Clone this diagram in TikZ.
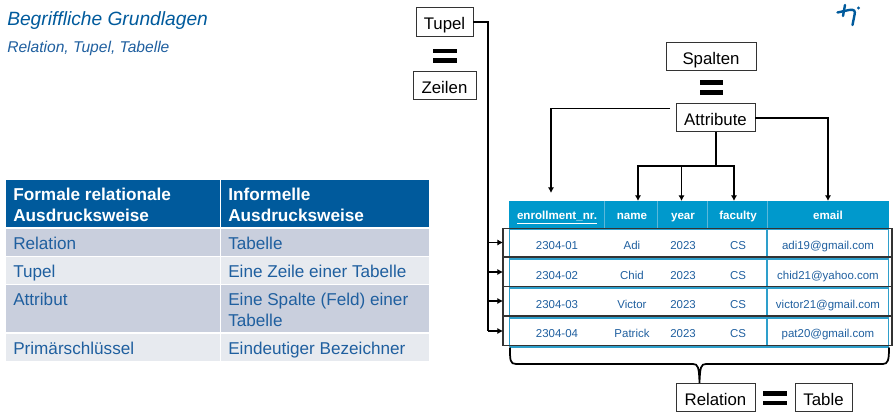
\documentclass[tikz,border=0pt]{standalone}
\usepackage{fontspec}
\setmainfont{Liberation Sans}
\usetikzlibrary{arrows.meta}
\definecolor{navy}{HTML}{005A9C}
\definecolor{bodyblue}{HTML}{1F5F9F}
\definecolor{rowdark}{HTML}{C9CFDD}
\definecolor{rowlight}{HTML}{E7EAEF}
\definecolor{cyanhead}{HTML}{0099CC}
\definecolor{cyanline}{HTML}{2E9FCB}
\definecolor{cyansep}{HTML}{5BB8DA}
\tikzset{
  x=0.75pt,y=-0.75pt,
  labelbox/.style={draw=black!80,line width=0.75pt,fill=white,inner sep=0pt,outer sep=0pt,font=\fontsize{12.6}{15}\selectfont,text=black,text height=10.7pt,text depth=0pt},
  rowbox/.style={draw=black!80,line width=0.8pt,inner sep=0pt,outer sep=0pt,minimum width=291.75pt,minimum height=21.4pt},
  conn/.style={line width=1.5pt,draw=black},
  thinconn/.style={line width=1.4pt,draw=black},
  tip/.style={-{Latex[length=4.2pt,width=4.6pt]}},
  eqbar/.style={fill=black},
  titletext/.style={anchor=base west,inner sep=0pt,text=navy,font=\fontsize{14.4}{17}\selectfont\itshape},
  subtext/.style={anchor=base west,inner sep=0pt,text=bodyblue,font=\fontsize{11.7}{14}\selectfont\itshape},
  lhead/.style={anchor=base west,inner sep=0pt,text=white,font=\fontsize{12.9}{15.75}\selectfont\bfseries,align=left},
  lcell/.style={anchor=base west,inner sep=0pt,text=bodyblue,font=\fontsize{12.85}{15.75}\selectfont,align=left},
  dcell/.style={anchor=base,inner sep=0pt,text=bodyblue,font=\fontsize{8.6}{10}\selectfont},
  mcell/.style={anchor=base,inner sep=0pt,text=bodyblue,font=\fontsize{8.6}{10}\selectfont},
  hcell/.style={anchor=base,inner sep=0pt,text=white,font=\fontsize{8.7}{10}\selectfont\bfseries},
}
\begin{document}
\begin{tikzpicture}
\useasboundingbox (0,0) rectangle (896,416);
% title
\node[titletext] (title) at (7,26) {Begriffliche Grundlagen};
\node[subtext] (subtitle) at (7,52.5) {Relation, Tupel, Tabelle};
% logo
\draw[navy,line width=1.8pt,line cap=round] (845,5) -- (843,16);
\draw[navy,line width=1.8pt,line cap=round] (837.5,12.5) -- (849,10) .. controls (854.5,9) and (855.5,11) .. (854.5,15) -- (852.5,25);
\fill[navy] (858.5,8) circle (1.6);
% left table
\fill[navy] (6,180) rectangle (219.5,227);
\fill[navy] (221,180) rectangle (429,227);
\fill[rowdark] (6,229.5) rectangle (219.5,256);
\fill[rowdark] (221,229.5) rectangle (429,256);
\fill[rowlight] (6,257) rectangle (219.5,284);
\fill[rowlight] (221,257) rectangle (429,284);
\fill[rowdark] (6,285) rectangle (219.5,332.5);
\fill[rowdark] (221,285) rectangle (429,332.5);
\fill[rowlight] (6,334) rectangle (219.5,361);
\fill[rowlight] (221,334) rectangle (429,361);
\node[lhead] (h1) at (13,222) {Formale relationale\\Ausdrucksweise};
\node[lhead] (h2) at (228,222) {Informelle\\Ausdrucksweise};
\node[lcell] (l1a) at (13,250) {Relation};
\node[lcell] (l1b) at (228,250) {Tabelle};
\node[lcell] (l2a) at (13,278) {Tupel};
\node[lcell] (l2b) at (228,278) {Eine Zeile einer Tabelle};
\node[lcell] (l3a) at (13,306) {Attribut};
\node[lcell] (l3b) at (228,327) {Eine Spalte (Feld) einer\\Tabelle};
\node[lcell] (l4a) at (13,355) {Primärschlüssel};
\node[lcell] (l4b) at (228,355) {Eindeutiger Bezeichner};
% data table
\fill[cyanhead] (509,201) rectangle (889,229);
\foreach \sx in {604,657,707,767}{\draw[cyansep,line width=0.75pt] (\sx,201) -- (\sx,229);}
\foreach \ly in {229,259,288,318,347}{\draw[cyanline,line width=0.8pt] (509.5,\ly) -- (889,\ly);}
\draw[cyanline,line width=0.9pt] (509.5,229) -- (509.5,347);
\draw[cyanline,line width=0.9pt] (888.7,229) -- (888.7,347);
\draw[cyanline,line width=1pt] (767,229) -- (767,347);
\node[hcell] (c1) at (557,220) {\underline{enrollment\_nr.}};
\node[hcell] (c2) at (632,220) {name};
\node[hcell] (c3) at (683,220) {year};
\node[hcell] (c4) at (738,220) {faculty};
\node[hcell] (c5) at (828,220) {email};
\node[dcell] (r1a) at (557,250) {2304-01};
\node[dcell] (r1b) at (632,250) {Adi};
\node[dcell] (r1c) at (683,250) {2023};
\node[dcell] (r1d) at (738,250) {CS};
\node[mcell] (r1e) at (828,250) {adi19@gmail.com};
\node[dcell] (r2a) at (557,280) {2304-02};
\node[dcell] (r2b) at (632,280) {Chid};
\node[dcell] (r2c) at (683,280) {2023};
\node[dcell] (r2d) at (738,280) {CS};
\node[mcell] (r2e) at (828,280) {chid21@yahoo.com};
\node[dcell] (r3a) at (557,309) {2304-03};
\node[dcell] (r3b) at (632,309) {Victor};
\node[dcell] (r3c) at (683,309) {2023};
\node[dcell] (r3d) at (738,309) {CS};
\node[mcell] (r3e) at (828,309) {victor21@gmail.com};
\node[dcell] (r4a) at (557,338) {2304-04};
\node[dcell] (r4b) at (632,338) {Patrick};
\node[dcell] (r4c) at (683,338) {2023};
\node[dcell] (r4d) at (738,338) {CS};
\node[mcell] (r4e) at (828,338) {pat20@gmail.com};
% row boxes
\node[rowbox] (row1) at (697.5,242.5) {};
\node[rowbox] (row2) at (697.5,272) {};
\node[rowbox] (row3) at (697.5,301) {};
\node[rowbox] (row4) at (697.5,331) {};
% label boxes
\node[labelbox,minimum width=42.75pt,minimum height=21.75pt] (tupel) at (444.5,22.5) {Tupel};
\node[labelbox,minimum width=47.25pt,minimum height=21pt] (zeilen) at (444.5,86) {Zeilen};
\node[labelbox,minimum width=67.5pt,minimum height=21pt] (spalten) at (711,57) {Spalten};
\node[labelbox,minimum width=59.25pt,minimum height=21pt] (attribute) at (715.5,118) {Attribute};
\node[labelbox,minimum width=59.25pt,minimum height=21pt] (relation) at (715.5,398) {Relation};
\node[labelbox,minimum width=42.75pt,minimum height=21pt] (tablebox) at (823.5,398) {Table};
% equals signs
\fill[eqbar] (433,49) rectangle (457,53.5);
\fill[eqbar] (433,58.5) rectangle (457,63);
\fill[eqbar] (700,80) rectangle (723,85);
\fill[eqbar] (700,90) rectangle (723,95);
\fill[eqbar] (763,391) rectangle (787,396);
\fill[eqbar] (763,401) rectangle (787,405.5);
% tuple connectors
\coordinate (trunkend) at (488,331);
\draw[conn] (tupel.east) -| (trunkend);
\draw[thinconn,tip] (trunkend |- row1.west) -- (row1.west);
\draw[thinconn,tip] (trunkend |- row2.west) -- (row2.west);
\draw[thinconn,tip] (trunkend |- row3.west) -- (row3.west);
\draw[thinconn,tip] (trunkend) -- (row4.west);
% attribute connectors
\coordinate (leftstart) at (670,108.5);
\coordinate (leftend) at (551,193);
\coordinate (rightend) at (828,201);
\coordinate (busmid) at (715.5,166);
\coordinate (busleft) at (638,201);
\coordinate (busmidd) at (681.5,201);
\coordinate (busright) at (734,201);
\draw[thinconn,tip] (leftstart) -| (leftend);
\draw[thinconn,tip] (attribute.east) -| (rightend);
\draw[conn] (attribute.south) -- (busmid);
\draw[thinconn,tip] (busmid) -| (busleft);
\draw[thinconn,tip] (busmid -| busmidd) -- (busmidd);
\draw[thinconn,tip] (busmid) -| (busright);
% brace
\draw[line width=1.3pt,line cap=round] (510,348) .. controls (510,360) and (510,364) .. (516,364)
  -- (693,364) .. controls (698,364) and (699,367) .. (699.5,383)
  .. controls (700,367) and (701,364) .. (706,364)
  -- (883,364) .. controls (888,364) and (889,360) .. (889,348);
\end{tikzpicture}
\end{document}
